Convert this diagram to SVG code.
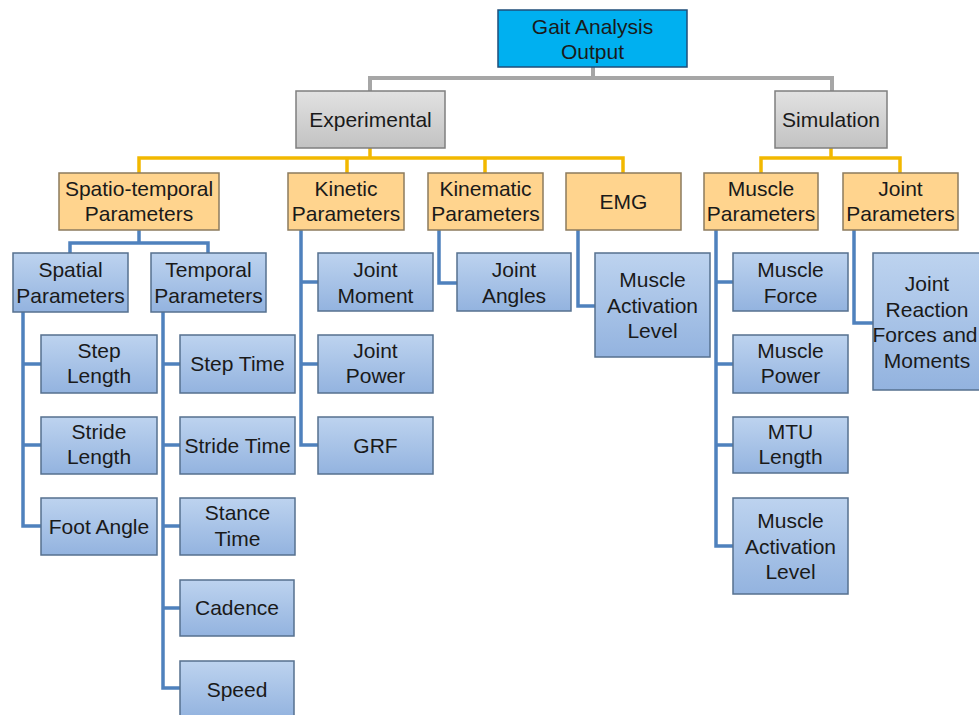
<svg xmlns="http://www.w3.org/2000/svg" width="979" height="715" viewBox="0 0 979 715">
<defs>
<linearGradient id="gBlue" x1="0" y1="0" x2="0" y2="1"><stop offset="0" stop-color="#BDD3EF"/><stop offset="1" stop-color="#93B3DF"/></linearGradient>
<linearGradient id="gGray" x1="0" y1="0" x2="0" y2="1"><stop offset="0" stop-color="#E2E2E2"/><stop offset="1" stop-color="#C2C2C2"/></linearGradient>
</defs>
<style>
text{font-family:"Liberation Sans","Open Sans",sans-serif;font-size:21px;fill:#1a1a1a;text-anchor:middle}
.top{fill:#00B0F0;stroke:#1F4E79;stroke-width:1.5}
.gray{fill:url(#gGray);stroke:#7F7F7F;stroke-width:1.5}
.org{fill:#FFD48E;stroke:#8C7B5E;stroke-width:1.5}
.blu{fill:url(#gBlue);stroke:#56708F;stroke-width:1.5}
.cg{fill:none;stroke:#A6A6A6;stroke-width:4}
.co{fill:none;stroke:#F2B800;stroke-width:3.5}
.cb{fill:none;stroke:#4F81BD;stroke-width:3.5}
</style>
<g id="connectors">
<path class="cg" d="M593 67V78M370 91V78H832V91"/>
<path class="co" d="M370 148V158M139 173V158H623V173M347 158V173M485 158V173"/>
<path class="co" d="M831 148V158M761 173V158H900V173"/>
<path class="cb" d="M139 230V243M70 253V243H208V253"/>
<path class="cb" d="M23 312V526H41M23 364H41M23 445H41"/>
<path class="cb" d="M163 312V688H180M163 364H180M163 445H180M163 526H180M163 608H180"/>
<path class="cb" d="M301 230V445H318M301 282H318M301 364H318"/>
<path class="cb" d="M439 230V283H457"/>
<path class="cb" d="M578 230V306H595"/>
<path class="cb" d="M716 230V546H733M716 282H733M716 364H733M716 445H733"/>
<path class="cb" d="M854 230V323H873"/>
</g>
<g id="gait"><rect class="top" x="498" y="10" width="189" height="57"/><text x="592.5" y="34">Gait Analysis</text><text x="592.5" y="59">Output</text></g>
<g id="experimental"><rect class="gray" x="296" y="91" width="149" height="57"/><text x="370.5" y="127">Experimental</text></g>
<g id="simulation"><rect class="gray" x="775" y="91" width="112" height="57"/><text x="831" y="127">Simulation</text></g>
<g id="spatiotemporal"><rect class="org" x="59" y="173" width="160" height="57"/><text x="139" y="196">Spatio-temporal</text><text x="139" y="221">Parameters</text></g>
<g id="kinetic"><rect class="org" x="288" y="173" width="116" height="57"/><text x="346" y="196">Kinetic</text><text x="346" y="221">Parameters</text></g>
<g id="kinematic"><rect class="org" x="428" y="173" width="115" height="57"/><text x="485.5" y="196">Kinematic</text><text x="485.5" y="221">Parameters</text></g>
<g id="emg"><rect class="org" x="566" y="173" width="115" height="57"/><text x="623.5" y="209">EMG</text></g>
<g id="muscleparams"><rect class="org" x="704" y="173" width="114" height="57"/><text x="761" y="196">Muscle</text><text x="761" y="221">Parameters</text></g>
<g id="jointparams"><rect class="org" x="843" y="173" width="115" height="57"/><text x="900.5" y="196">Joint</text><text x="900.5" y="221">Parameters</text></g>
<g id="spatial"><rect class="blu" x="13" y="253" width="115" height="59"/><text x="70.5" y="277">Spatial</text><text x="70.5" y="303">Parameters</text></g>
<g id="temporal"><rect class="blu" x="151" y="253" width="115" height="59"/><text x="208.5" y="277">Temporal</text><text x="208.5" y="303">Parameters</text></g>
<g id="steplength"><rect class="blu" x="41" y="335" width="116" height="58"/><text x="99" y="358">Step</text><text x="99" y="383">Length</text></g>
<g id="stridelength"><rect class="blu" x="41" y="417" width="116" height="57"/><text x="99" y="439">Stride</text><text x="99" y="464">Length</text></g>
<g id="footangle"><rect class="blu" x="41" y="498" width="116" height="57"/><text x="99" y="534">Foot Angle</text></g>
<g id="steptime"><rect class="blu" x="180" y="335" width="115" height="58"/><text x="237.5" y="371">Step Time</text></g>
<g id="stridetime"><rect class="blu" x="180" y="417" width="115" height="57"/><text x="237.5" y="453">Stride Time</text></g>
<g id="stancetime"><rect class="blu" x="180" y="498" width="115" height="57"/><text x="237.5" y="520">Stance</text><text x="237.5" y="546">Time</text></g>
<g id="cadence"><rect class="blu" x="180" y="580" width="114" height="56"/><text x="237" y="615">Cadence</text></g>
<g id="speed"><rect class="blu" x="180" y="661" width="114" height="57"/><text x="237" y="697">Speed</text></g>
<g id="jointmoment"><rect class="blu" x="318" y="253" width="115" height="58"/><text x="375.5" y="277">Joint</text><text x="375.5" y="303">Moment</text></g>
<g id="jointpower"><rect class="blu" x="318" y="335" width="115" height="58"/><text x="375.5" y="358">Joint</text><text x="375.5" y="383">Power</text></g>
<g id="grf"><rect class="blu" x="318" y="417" width="115" height="57"/><text x="375.5" y="453">GRF</text></g>
<g id="jointangles"><rect class="blu" x="457" y="253" width="114" height="58"/><text x="514" y="277">Joint</text><text x="514" y="303">Angles</text></g>
<g id="emgactivation"><rect class="blu" x="595" y="253" width="115" height="104"/><text x="652.5" y="287">Muscle</text><text x="652.5" y="313">Activation</text><text x="652.5" y="338">Level</text></g>
<g id="muscleforce"><rect class="blu" x="733" y="253" width="115" height="58"/><text x="790.5" y="277">Muscle</text><text x="790.5" y="303">Force</text></g>
<g id="musclepower"><rect class="blu" x="733" y="335" width="115" height="58"/><text x="790.5" y="358">Muscle</text><text x="790.5" y="383">Power</text></g>
<g id="mtulength"><rect class="blu" x="733" y="417" width="115" height="56"/><text x="790.5" y="439">MTU</text><text x="790.5" y="464">Length</text></g>
<g id="muscleactivation"><rect class="blu" x="733" y="498" width="115" height="96"/><text x="790.5" y="528">Muscle</text><text x="790.5" y="554">Activation</text><text x="790.5" y="579">Level</text></g>
<g id="jointreaction"><rect class="blu" x="873" y="253" width="115" height="137"/><text x="927" y="291">Joint</text><text x="927" y="317">Reaction</text><text x="925" y="342">Forces and</text><text x="927" y="368">Moments</text></g>
</svg>
